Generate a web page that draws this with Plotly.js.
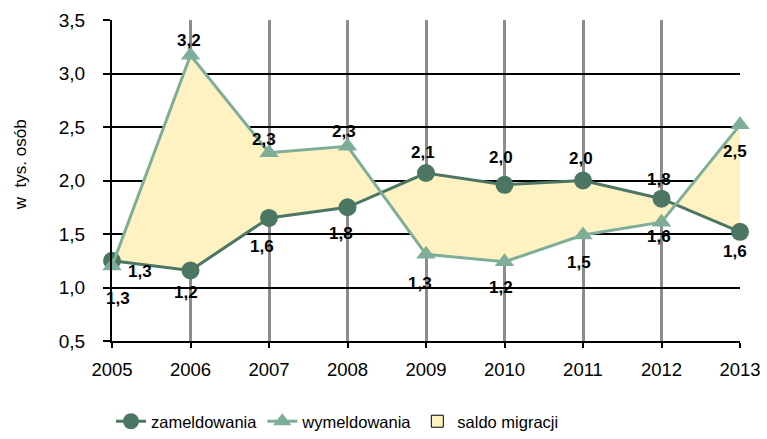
<!DOCTYPE html>
<html>
<head>
<meta charset="utf-8">
<script src="https://cdn.plot.ly/plotly-3.0.1.min.js"></script>
<style>html,body{margin:0;padding:0;background:#fff;}#chart{width:767px;height:439px;}</style>
</head>
<body>
<div id="chart"></div>
<script>
const years = [2005, 2006, 2007, 2008, 2009, 2010, 2011, 2012, 2013];
const zameldowania = [1.25, 1.16, 1.65, 1.75, 2.07, 1.96, 2.0, 1.83, 1.52];
const wymeldowania = [1.2, 3.17, 2.26, 2.32, 1.31, 1.24, 1.49, 1.61, 2.52];
const zamLabels = ['1,3', '1,2', '1,6', '1,8', '2,1', '2,0', '2,0', '1,8', '1,6'];
const wymLabels = ['1,3', '3,2', '2,3', '2,3', '1,3', '1,2', '1,5', '1,6', '2,5'];

// label offsets in pixels (style only)
const zamShift = [[28, -11], [-5, -22], [-7, -29], [-7, -26], [-3, 21], [-4, 27], [-2, 22], [-3, 19], [-5, -20]];
const wymShift = [[6, -32], [-2, 15], [-5, 13], [-4, 15], [-6, -29], [-4, -26], [-4, -27], [-3, -14], [-5, -27]];

const cZam = '#4b7662';
const cWym = '#7fae98';
const cFill = '#fff2c2';
const font = 'Liberation Sans, Arial, sans-serif';

const traces = [
  {
    x: years.concat(years.slice().reverse()),
    y: zameldowania.concat(wymeldowania.slice().reverse()),
    mode: 'none', fill: 'toself', fillcolor: cFill,
    showlegend: false, hoverinfo: 'skip'
  },
  {
    x: years, y: zameldowania, name: 'zameldowania',
    mode: 'lines+markers',
    line: {color: cZam, width: 3}, marker: {symbol: 'circle', size: 18, color: cZam},
    cliponaxis: false
  },
  {
    x: years, y: wymeldowania, name: 'wymeldowania',
    mode: 'lines+markers',
    line: {color: cWym, width: 3}, marker: {symbol: 'triangle-up', size: 17, color: cWym},
    cliponaxis: false
  },
  {
    type: 'bar', x: [null], y: [null], name: 'saldo migracji',
    marker: {color: cFill, line: {color: '#000', width: 1}}
  }
];

function labelAnns(vals, labels, shifts) {
  return years.map((yr, i) => ({
    x: yr, y: vals[i], xref: 'x', yref: 'y', text: labels[i], showarrow: false,
    xshift: shifts[i][0], yshift: shifts[i][1],
    font: {family: font, size: 17, color: '#000', weight: 'bold'}
  }));
}

const annotations = labelAnns(zameldowania, zamLabels, zamShift)
  .concat(labelAnns(wymeldowania, wymLabels, wymShift))
  .concat([{
    text: 'w  tys. osób', textangle: -90, showarrow: false,
    xref: 'paper', yref: 'paper', x: -0.1465, y: 0.551,
    xanchor: 'center', yanchor: 'middle',
    font: {family: font, size: 17, color: '#000'}
  }]);

const layout = {
  width: 767, height: 439,
  margin: {l: 112, r: 27, t: 20, b: 98},
  paper_bgcolor: '#fff', plot_bgcolor: '#fff',
  separators: ', ',
  font: {family: font, size: 16, color: '#000'},
  xaxis: {
    range: [2005, 2013], tickvals: years, ticktext: years.map(String),
    showgrid: true, gridcolor: '#8c8c8c', gridwidth: 3,
    showline: true, linecolor: '#000', linewidth: 2,
    ticks: 'outside', ticklen: 5, tickcolor: '#000', tickwidth: 2,
    zeroline: false, tickfont: {size: 18.5}, ticklabelstandoff: 6
  },
  yaxis: {
    range: [0.5, 3.5], dtick: 0.5, tickformat: '.1f',
    showgrid: true, gridcolor: '#000', gridwidth: 2,
    showline: true, linecolor: '#000', linewidth: 2,
    ticks: 'outside', ticklen: 7, tickcolor: '#000', tickwidth: 2,
    zeroline: false, tickfont: {size: 19}, ticklabelstandoff: 14
  },
  annotations: annotations,
  legend: {
    orientation: 'h', xref: 'container', yref: 'container',
    x: 0.44, xanchor: 'center', y: -0.018, yanchor: 'bottom',
    font: {size: 16.5}, traceorder: 'normal', itemwidth: 30
  },
  showlegend: true
};

Plotly.newPlot('chart', traces, layout, {displayModeBar: false, staticPlot: true});
</script>
</body>
</html>
